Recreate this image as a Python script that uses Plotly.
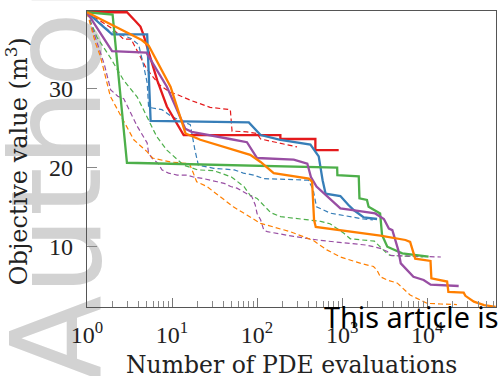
import plotly.graph_objects as go

# ---------------- data ----------------
red_n = [1, 2.95, 3.7, 4.25, 4.6, 5.6, 6.7, 8.7, 13.7, 188, 188, 485, 485, 912]
red_v = [39.6, 39.6, 38.5, 37.8, 36.8, 33.6, 31.0, 27.7, 24.1, 24.1, 23.6, 23.6, 22.2, 22.2]
red_d_n = [1, 2.0, 2.7, 3.3, 4.0, 5.0, 7.0, 9.5, 11.6, 16.4, 28, 48.5, 50.8, 76, 100, 110, 295]
red_d_v = [39.6, 37.5, 36.2, 36.2, 34.5, 32.5, 30.5, 29.5, 29.2, 28.5, 27.6, 27.3, 24.6, 24.5, 24.3, 23.6, 22.6]

blue_n = [1, 1.97, 5.1, 5.6, 80, 110, 188, 424, 531, 590, 640, 955, 1180, 1380, 1800, 2580]
blue_v = [39.6, 36.8, 36.8, 25.9, 25.7, 24.1, 23.5, 22.9, 21.4, 18.4, 16.7, 16.4, 15.3, 14.6, 13.7, 13.5]
blue_d_n = [1, 1.8, 3.3, 4.05, 4.6, 5.1, 5.3, 7.6, 10, 16.4, 18.6, 20.4, 31, 54, 69, 91, 120, 400, 457, 500, 720, 1260, 1780, 2300]
blue_d_v = [39.6, 37.3, 36.3, 35.5, 33.0, 30.7, 27.6, 27.3, 26.4, 25.4, 22.2, 20.3, 19.9, 19.7, 19.3, 19.05, 18.6, 18.4, 17.2, 15.05, 14.25, 13.8, 13.5, 13.4]

green_n = [1, 2.0, 2.95, 875, 880, 1570, 1600, 1960, 2050, 2800, 2950, 3400, 5100, 10400]
green_v = [39.6, 39.3, 20.6, 20.0, 19.05, 18.9, 16.1, 15.9, 15.05, 14.2, 11.5, 10.0, 9.16, 8.74]
green_d_n = [1, 1.3, 1.9, 2.7, 3.9, 5.1, 6.6, 8.7, 13.7, 20, 31, 50, 70, 83, 100, 145, 189, 560, 720, 1050, 1250, 2400, 2800, 3400, 3700, 5000, 9000]
green_d_v = [39.6, 36.5, 33.8, 31.0, 28.9, 26.4, 23.9, 22.2, 20.3, 19.7, 19.6, 18.8, 17.6, 16.5, 16.1, 14.3, 13.8, 13.2, 12.9, 11.7, 11.0, 10.7, 10.0, 9.1, 8.9, 8.8, 8.7]

purple_n = [1, 1.97, 5.0, 8.7, 14.3, 17, 48, 76, 100, 270, 390, 430, 500, 955, 1400, 2450, 3100, 3550, 3900, 4270, 4570, 4900, 5750, 6900, 9100, 11000, 23500]
purple_v = [39.6, 34.7, 34.5, 30.2, 24.9, 24.5, 23.6, 23.2, 21.2, 21.0, 20.5, 18.8, 17.6, 14.85, 14.6, 14.2, 13.5, 12.3, 12.1, 10.5, 9.6, 7.9, 7.06, 6.2, 5.8, 5.2, 5.04]
purple_d_n = [1, 1.25, 1.6, 1.9, 2.3, 2.7, 3.3, 3.9, 5.1, 5.3, 5.8, 6.9, 7.6, 9.1, 11.5, 15, 17.8, 23.4, 34, 41,
              49, 58, 87, 95, 100, 110, 120, 132, 270, 556, 1950, 2800, 3400, 3700, 14500]
purple_d_v = [39.6, 36.5, 33.0, 29.8, 29.0, 28.7, 26.8, 25.2, 23.1, 21.8, 21.2, 20.5, 19.7, 19.3, 19.05, 19.05, 18.8, 18.6, 18.2, 18.0,
              17.6, 17.4, 16.3, 15.3, 14.2, 13.4, 12.1, 11.9, 11.3, 10.8, 10.2, 9.8, 9.4, 8.9, 8.7]

orange_n = [1, 4.4, 5.3, 8, 9.6, 14.4, 21.5, 83, 110, 157, 407, 444, 468, 490, 2820, 5560, 6310, 7240, 10960, 11220,
            17180, 17780, 26920, 28180, 35480, 46770, 64000]
orange_v = [39.6, 36.1, 35.4, 31.9, 30.2, 24.3, 23.5, 21.6, 20.7, 19.3, 18.6, 18.2, 13.4, 12.5, 11.4, 10.85, 10.6, 8.5, 8.2, 6.0,
            5.6, 4.3, 4.2, 3.8, 3.06, 2.64, 2.4]
orange_d_n = [1, 1.26, 1.44, 1.88, 3.55, 5.08, 5.9, 9.55, 15.1, 16, 17.8, 19.5, 25.7, 37.2, 52.5, 75.9, 100, 110, 245, 389,
              457, 661, 794, 955, 1660, 2340, 2570, 2820, 3390, 4470, 6310, 8320, 10000, 14450, 22400]
orange_d_v = [39.6, 35.7, 34.0, 29.0, 23.5, 22.0, 21.2, 20.7, 20.5, 20.5, 19.3, 18.2, 17.6, 16.3, 15.05, 14.0, 13.2, 12.95, 11.9, 11.05,
              10.8, 9.6, 9.2, 8.7, 7.9, 7.5, 7.06, 6.2, 5.8, 5.4, 3.9, 3.3, 2.85, 2.77, 2.7]

x_tick_vals = [1, 10, 100, 1000, 10000]
x_tick_text = ["10<sup>0</sup>", "10<sup>1</sup>", "10<sup>2</sup>", "10<sup>3</sup>", "10<sup>4</sup>"]
y_tick_vals = [10, 20, 30]
y_tick_text = ["10", "20", "30"]

RED, BLUE, GREEN, PURPLE, ORANGE = "#e41a1c", "#377eb8", "#4daf4a", "#984ea3", "#ff7f00"

fig = go.Figure()

dashed = [(red_d_n, red_d_v, RED), (blue_d_n, blue_d_v, BLUE), (green_d_n, green_d_v, GREEN),
          (purple_d_n, purple_d_v, PURPLE), (orange_d_n, orange_d_v, ORANGE)]
for xs, ys, c in dashed:
    fig.add_trace(go.Scatter(x=xs, y=ys, mode="lines", line=dict(color=c, width=1.2, dash="5px,3px"),
                             showlegend=False, hoverinfo="skip"))

solid = [(red_n, red_v, RED), (blue_n, blue_v, BLUE), (green_n, green_v, GREEN),
         (purple_n, purple_v, PURPLE), (orange_n, orange_v, ORANGE)]
for xs, ys, c in solid:
    fig.add_trace(go.Scatter(x=xs, y=ys, mode="lines", line=dict(color=c, width=2.3),
                             showlegend=False, hoverinfo="skip"))

minor_vals = [m * 10 ** k for k in range(0, 5) for m in range(2, 10)]

fig.update_xaxes(type="log", range=[0, 4.81], tickmode="array", tickvals=x_tick_vals, ticktext=x_tick_text,
                 ticks="inside", ticklen=9, tickcolor="#777", tickwidth=1,
                 minor=dict(tickmode="array", tickvals=minor_vals, ticks="inside", ticklen=6, tickcolor="#888", showgrid=False),
                 showgrid=False, zeroline=False, showline=True, mirror=True, linecolor="#555", linewidth=1.2,
                 tickfont=dict(family="Liberation Serif", size=24, color="#222"), ticklabelstandoff=6)
fig.update_yaxes(range=[2.39, 39.76], tickmode="array", tickvals=y_tick_vals, ticktext=y_tick_text,
                 ticks="inside", ticklen=10, tickcolor="#888", tickwidth=1,
                 showgrid=False, zeroline=False, showline=True, mirror=True, linecolor="#555", linewidth=1.2,
                 tickfont=dict(family="Liberation Serif", size=24, color="#222"), ticklabelstandoff=8)

fig.update_layout(
    width=499, height=376, autosize=False,
    margin=dict(l=87, r=3, t=11, b=69),
    paper_bgcolor="white", plot_bgcolor="white",
    shapes=[dict(type="rect", xref="paper", yref="paper", x0=-0.203, x1=0.0098, y0=-0.233, y1=1.155,
                 line=dict(width=0), fillcolor="rgba(0,0,0,0)", layer="below",
                 label=dict(text="Author", textangle=-90, textposition="middle center",
                            font=dict(family="DejaVu Sans", size=125, color="#d2d2d2")))],
    annotations=[
        dict(text="Number of PDE evaluations", xref="paper", yref="paper", x=0.5, y=-0.196,
             xanchor="center", yanchor="middle", showarrow=False,
             font=dict(family="DejaVu Serif", size=23.5, color="#222")),
        dict(text="Objective value (m<sup>3</sup>)", xref="paper", yref="paper", x=-0.171, y=0.493,
             xanchor="center", yanchor="middle", textangle=-90, showarrow=False,
             font=dict(family="DejaVu Serif", size=24, color="#222")),
        dict(text="This article is", xref="paper", yref="paper", x=(322 - 87) / 409, y=(307 - 316) / 296,
             xanchor="left", yanchor="middle", showarrow=False,
             font=dict(family="Noto Sans", size=28.8, color="black")),
    ],
)

fig.write_html("out.html", config={"displayModeBar": False},
               post_script="document.body.style.margin='0';document.body.style.padding='0';document.body.style.overflow='hidden';")
